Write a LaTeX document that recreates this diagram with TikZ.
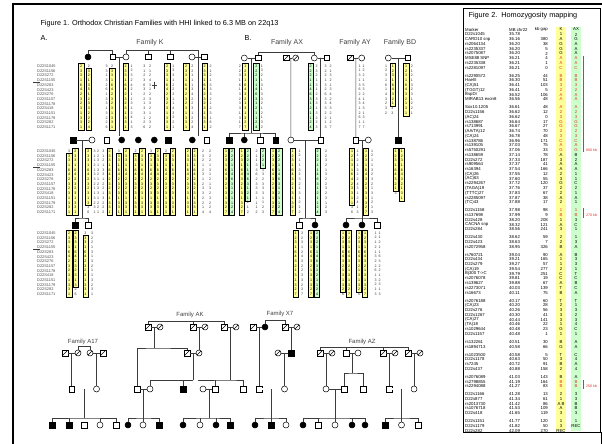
\documentclass[tikz,border=0pt]{standalone}
\usepackage{fontspec}
\setmainfont{Liberation Sans}
\usepackage{xcolor}
\usepackage{tikz}
\usetikzlibrary{calc}
\definecolor{hapy}{RGB}{255,255,153}
\definecolor{hapg}{RGB}{204,255,204}
\definecolor{lnk}{RGB}{60,60,60}
\definecolor{recred}{RGB}{228,45,45}
\newcommand{\hapfont}{\fontsize{3.6}{4.7}\selectfont}
\newcommand{\mkfont}{\fontsize{3.9}{4.7}\selectfont}
\newcommand{\tabfont}{\fontsize{4.3}{5}\selectfont}
\newcommand{\famfont}{\fontsize{7}{8}\selectfont}
% one digit per line
\def\colrest#1{\ifx\relax#1\else\\#1\expandafter\colrest\fi}
\def\colfirst#1{#1\colrest}
\newcommand{\col}[1]{\colfirst#1\relax}
\newcommand{\mklist}{D22S1045\\D22S1156\\D22S272\\D22S1155\\D22S283\\D22S423\\D22S276\\D22S1157\\D22S1178\\D22S418\\D22S1151\\D22S1179\\D22S282\\D22S1171}

\begin{document}
\begin{tikzpicture}[x=1pt,y=-1pt,
 ml/.style={draw,fill=white,minimum size=5.5pt,inner sep=0pt,line width=.5pt},
 fm/.style={ml,circle,minimum size=6pt},
 af/.style={fill=black},
 dc/.style={path picture={\draw[line width=.5pt] (path picture bounding box.south west) -- (path picture bounding box.north east);}},
 pl/.style={draw=lnk,line width=.6pt},
 hy/.style={draw,fill=hapy,anchor=north,inner xsep=0pt,inner ysep=1.6pt,minimum width=5.4pt,align=center,font=\hapfont,line width=.5pt},
 hg/.style={hy,fill=hapg},
 nm/.style={anchor=north,inner xsep=0pt,inner ysep=1.6pt,align=center,font=\hapfont,text=black!80},
 mk/.style={nm,anchor=north west,align=left,font=\mkfont,text=black!70},
 fam/.style={font=\famfont,text=black!75},
 tb/.style={font=\tabfont,inner sep=0pt}]
\useasboundingbox (0,0) rectangle (602,444);

% frames
\draw[line width=2pt] (13,444) -- (13,4) -- (602,4);
\draw[line width=.6pt] (463,8) rectangle (600,432);
\draw[line width=1pt] (601,432) -- (601,444);

% ---------------- Figure 1 ----------------
\node[anchor=west,font=\fontsize{7.3}{8}\selectfont] (t1) at (37,24) {Figure 1. Orthodox Christian Families with HHI linked to 6.3 MB on 22q13};
\node[anchor=west,font=\fontsize{7.3}{8}\selectfont] (tA) at (37,38) {A.};
\node[anchor=west,font=\fontsize{7.3}{8}\selectfont] (tB) at (241,38) {B.};
\node[fam] (lK) at (150,43) {Family K};
\node[fam] (lAX) at (287,43) {Family AX};
\node[fam] (lAY) at (355,43) {Family AY};
\node[fam] (lBD) at (400,43) {Family BD};

% Family K
\node[fm,af] (k1) at (88,57) {};
\node[ml] (k2) at (112.5,57) {};
\node[fm] (k3) at (126,57) {};
\node[ml] (k4) at (148,57) {};
\node[ml] (k5) at (170,57) {};
\node[fm] (k6) at (192,57) {};
\node[ml] (k7) at (204,57) {};
\node[ml,af] (k8) at (73,140) {};
\node[fm] (k9) at (92,140) {};
\node[ml] (k10) at (106.7,140) {};
\node[fm,af] (k11) at (121.7,140) {};
\node[fm,af] (k12) at (138.3,140) {};
\node[fm,af] (k13) at (154.3,140) {};
\node[ml,af] (k14) at (168.3,140) {};
\node[fm,af] (k15) at (192.3,140) {};
\node[ml] (k16) at (206.7,140) {};
\node[ml,af] (k17) at (75,225) {};
\node[ml] (k18) at (88,225) {};
\coordinate (kj1) at ($(k2)!.5!(k3)$);
\coordinate (kj2) at ($(k6)!.5!(k7)$);
\coordinate (kj3) at ($(k8)!.5!(k9)$);
\draw[pl] (k1.north) -- ++(0,-3.5) -| (k2.north);
\draw[pl] (k2) -- (k3);
\draw[pl] (k6) -- (k7);
\draw[pl] (k3.north) -- ++(0,-3.5) -| (kj2);
\draw[pl] (k4.north) -- ++(0,-3.5);
\draw[pl] (k5.north) -- ++(0,-3.5);
\draw[pl] (kj1) -- ++(0,79);
\draw[pl] (kj2) -- ++(0,79);
\draw[pl] (k8) -- (k9);
\draw[pl] (kj3) -- ++(0,78) coordinate (kj4);
\draw[pl] (k17.north) |- (kj4) -| (k18.north);

\node[mk] (mkA) at (37,63) {\mklist};
\node[mk] (mkB) at (37,148) {\mklist};
\node[mk] (mkC) at (37,230) {\mklist};
\draw[pl] (33,82.5) -- (40,82.5);
\draw[pl] (33,167) -- (40,167);
\draw[pl] (33,249) -- (40,249);

% K row 1
\node[hy] (ka1) at (81.2,63) {\col{23316423231331}};
\node[hy] (ka2) at (88.8,67.7) {\col{3213512332224}};
\node[nm] (ka3) at (88.8,63) {2};
\node[nm] (kb1) at (106.5,63) {\col{33132613313226}};
\node[hy] (kb2) at (112.2,67.7) {\col{3316423231331}};
\node[nm] (kb3) at (112.2,63) {2};
\node[hy] (kc1) at (125.5,63) {\col{23316423231331}};
\node[nm] (kc2) at (131.5,63) {\col{12324211312413}};
\node[nm] (kd1) at (144.3,63) {\col{31236322133126}};
\node[nm] (kd2) at (150,63) {\col{21243123321232}};
\draw[pl] (152,85) -- (156.5,85) (154.3,81.5) -- (154.3,88.5);
\node[hy] (ke1) at (167.2,63) {\col{23316423231331}};
\node[nm] (ke2) at (173.3,63) {\col{13312231143321}};
\node[hy] (kf1) at (186.2,63) {\col{23316423231331}};
\node[nm] (kf2) at (192.3,63) {\col{22111342231224}};
\node[hy] (kg1) at (204.5,63) {\col{23316423231331}};
\node[nm] (kg2) at (210.7,63) {\col{21213332123162}};

% K row 2
\node[nm] (la0) at (69.2,148) {3};
\node[hy] (la1) at (69.2,152.7) {\col{3316423231331}};
\node[hy] (la2) at (75.3,148) {\col{23316423231331}};
\node[hy] (lb1) at (88.3,148) {\col{233164232313}};
\node[nm] (lb2) at (88.3,204.4) {\col{36}};
\node[nm] (lb3) at (94.5,148) {\col{31121332113231}};
\node[nm] (lb4) at (98,148) {\col{22313212331221}};
\node[nm] (lc1) at (103.3,148) {\col{31213312213222}};
\node[hy] (lc2) at (109.5,148) {\col{23316423231331}};
\node[nm] (ld0) at (118.8,148) {3};
\node[hy] (ld1) at (118.8,152.7) {\col{3316423231331}};
\node[hy] (ld2) at (126.2,148) {\col{23316423231331}};
\node[nm] (le0) at (135.5,148) {2};
\node[hy] (le1) at (135.5,152.7) {\col{3316423231331}};
\node[hy] (le2) at (142.2,148) {\col{23316423231331}};
\node[nm] (lf0) at (151.2,148) {3};
\node[hy] (lf1) at (151.2,152.7) {\col{3316423231331}};
\node[hy] (lf2) at (157.8,148) {\col{23316423231331}};
\node[nm] (lg0) at (166.2,148) {2};
\node[hy] (lg1) at (166.2,152.7) {\col{3316423231331}};
\node[hy] (lg2) at (172.8,148) {\col{23316423231331}};
\node[hy] (lh1) at (187.8,148) {\col{23316423231331}};
\node[hy] (lh2) at (194.5,148) {\col{23316423231331}};
\node[nm] (li1) at (203,148) {\col{23212312332214}};
\node[nm] (li2) at (210,148) {\col{22213121323224}};

% K row 3
\node[hy] (ma1) at (69.2,230) {\col{23316423231331}};
\node[hy] (ma2) at (75.5,230) {\col{233164232313}};
\node[nm] (ma3) at (75.5,286.4) {\col{26}};
\node[nm] (mb0) at (85.5,230) {3};
\node[hy] (mb1) at (85.5,234.7) {\col{3316423231331}};
\node[nm] (mb2) at (92,230) {\col{32213132113231}};

% Family AX
\node[fm] (x1) at (244.3,58) {};
\node[ml] (x2) at (258.3,58) {};
\node[ml,dc] (x3) at (286,58) {};
\node[fm,dc] (x4) at (295.7,58) {};
\node[fm] (x5) at (314.3,58) {};
\node[ml] (x6) at (326.7,58) {};
\node[ml,af] (x7) at (229,140) {};
\node[fm,af] (x8) at (244.3,140) {};
\node[ml] (x9) at (260,140) {};
\node[ml,af] (x10) at (275.7,140) {};
\node[fm] (x11) at (290.9,140) {};
\node[ml] (x12) at (320.5,140) {};
\node[ml] (x13) at (299,225) {};
\node[fm,af] (x14) at (315,225) {};
\coordinate (xj1) at ($(x1)!.5!(x2)$);
\coordinate (xj3) at ($(x3)!.5!(x4)$);
\coordinate (xj4) at ($(x5)!.5!(x6)$);
\coordinate (xj5) at ($(x11)!.5!(x12)$);
\draw[pl] (x2.north) -- ++(0,-3) -| (x5.north);
\draw[pl] (x1) -- (x2);
\draw[pl] (x3) -- (x4);
\draw[pl] (x5) -- (x6);
\draw[pl] (xj1) -- ++(0,75) coordinate (xj2);
\draw[pl] (x7.north) |- (xj2) -| (x10.north);
\draw[pl] (x8.north) -- (x8.north |- xj2);
\draw[pl] (x9.north) -- (x9.north |- xj2);
\draw[pl] (xj3) -- (x11.north);
\draw[pl] (xj4) -- (x12.north);
\draw[pl] (x11) -- (x12);
\draw[pl] (xj5) -- ++(0,78) coordinate (xj6);
\draw[pl] (x13.north) |- (xj6) -| (x14.north);

\node[nm] (na1) at (239.8,63) {\col{22316132331317}};
\node[hy] (na2) at (245.3,63) {\col{12316432131327}};
\node[hg] (nb1) at (256.3,63) {\col{22211463121124}};
\node[nm] (nb2) at (261.9,63) {\col{13213133212132}};
\node[hg] (nc1) at (310.5,63) {\col{22211463121124}};
\node[nm] (nc2) at (316.7,63) {\col{23213123313223}};
\node[nm] (nc3) at (325.5,63) {\col{32213263332213}};
\node[nm] (nc4) at (330.5,63) {\col{21321342432127}};

\node[hy] (oa1) at (226,148) {\col{12316432131327}};
\node[hg] (oa2) at (232,148) {\col{22211463121124}};
\node[hy] (ob1) at (241.8,148) {\col{12316432131327}};
\node[hg] (ob2) at (247.8,148) {\col{22211463121}};
\node[nm] (ob3) at (247.8,199.7) {\col{112}};
\node[nm] (oc1) at (256.7,148) {\col{21133623331112}};
\node[hg] (oc2) at (263,148) {\col{2221}};
\node[nm] (oc3) at (263,166.8) {\col{1323331123}};
\node[hy] (od1) at (273,148) {\col{12316432131327}};
\node[hg] (od2) at (279.2,148) {\col{22211463121124}};
\node[hy] (oe1) at (292.5,148) {\col{12316432131327}};
\node[nm] (oe2) at (299.5,148) {\col{12113232131212}};
\node[hg] (of1) at (317.5,148) {\col{22211463121124}};
\node[nm] (of2) at (326,148) {\col{22321322323123}};

\node[hy] (pa1) at (295.5,230) {\col{12316432131327}};
\node[nm] (pa2) at (302,230) {\col{32312432233237}};
\node[hy] (pb1) at (311,230) {\col{12316432131327}};
\node[hg] (pb2) at (317,230) {\col{22211463121124}};

% Family AY
\node[ml,dc] (y1) at (350,58) {};
\node[fm] (y2) at (361.7,58) {};
\node[ml] (y3) at (355.8,140) {};
\node[fm] (y4) at (368.3,140) {};
\node[fm,af] (y5) at (346,225) {};
\node[fm,af] (y6) at (362,225) {};
\node[ml] (y7) at (377,225) {};
\coordinate (yj1) at ($(y1)!.5!(y2)$);
\coordinate (yj2) at ($(y3)!.5!(y4)$);
\draw[pl] (y1) -- (y2);
\draw[pl] (yj1) -- (y3.north);
\draw[pl] (y3) -- (y4);
\draw[pl] (yj2) -- ++(0,78) coordinate (yj3);
\draw[pl] (y5.north) |- (yj3) -| (y7.north);
\draw[pl] (y6.north) -- (y6.north |- yj3);

\node[nm] (qa1) at (359.5,63) {\col{11313624312617}};
\node[nm] (qa2) at (363.5,63) {\col{12215321431317}};
\node[hy] (ra1) at (352,148) {\col{121316423311}};
\node[nm] (ra2) at (352,204.4) {\col{36}};
\node[nm] (ra3) at (357.5,148) {\col{11213224312413}};
\node[hy] (ra4) at (366,148) {\col{12316432131327}};
\node[nm] (ra5) at (372,148) {\col{12113232131213}};
\node[hy] (sa1) at (343,230) {\col{1231643213132}};
\node[nm] (sa2) at (343,291.1) {6};
\node[hy] (sa3) at (349,230) {\col{12316432131327}};
\node[hy] (sb1) at (359,230) {\col{1231643213132}};
\node[nm] (sb2) at (359,291.1) {5};
\node[hy] (sb3) at (365,230) {\col{12316432131327}};
\node[nm] (sc1) at (375.5,230) {\col{12121322613213}};
\node[nm] (sc2) at (379.5,230) {\col{11211632212313}};

% Family BD
\node[fm] (b1) at (388.3,58) {};
\node[ml] (b2) at (407.7,58) {};
\coordinate (bj1) at ($(b1)!.5!(b2)$);
\node[ml,af] (b3) at (bj1 |- 0,140) {};
\draw[pl] (b1) -- (b2);
\draw[pl] (bj1) -- (b3.north);
\node[nm] (ta1) at (386,63) {\col{12316143232}};
\node[hy] (ta2) at (392.8,63) {\col{123164321}};
\node[nm] (ta3) at (392.3,105.3) {\col{33}};
\node[hy] (ta4) at (406.2,63) {\col{12316432131}};
\node[nm] (ta5) at (411.9,63) {\col{21213231221}};
\node[hy] (ua1) at (395.5,148) {\col{123164321}};
\node[nm] (ua2) at (395.5,190.3) {3};
\node[hy] (ua3) at (401.8,148) {\col{12316432131}};

% Family A17
\node[fam,font=\fontsize{6}{7}\selectfont] (lA17) at (83,342) {Family A17};
\node[ml,dc] (a1) at (65,353) {};
\node[fm,dc] (a2) at (78,353) {};
\node[fm,dc] (a3) at (90,353) {};
\node[ml,dc] (a4) at (103,353) {};
\node[ml] (a5) at (71.5,389) {};
\node[fm] (a6) at (96.5,389) {};
\node[ml,af] (a7) at (52,425) {};
\node[ml,af] (a8) at (69,425) {};
\node[ml] (a9) at (84,425) {};
\node[fm] (a10) at (100,425) {};
\node[ml] (a11) at (116,425) {};
\coordinate (aj1) at ($(a1)!.5!(a2)$);
\coordinate (aj2) at ($(a3)!.5!(a4)$);
\coordinate (aj3) at ($(a5)!.5!(a6)$);
\draw[pl] (a1) -- (a2);
\draw[pl] (a3) -- (a4);
\draw[pl] (a2.north) -- ++(0,-3) -| (a3.north);
\draw[pl] (aj1) -- (a5.north);
\draw[pl] (aj2) -- (a6.north);
\draw[pl,double,double distance=1.1pt] (a5) -- (a6);
\draw[pl] (aj3) -- ++(0,29) coordinate (aj4);
\draw[pl] (a7.north) |- (aj4) -| (a11.north);
\foreach \n in {a8,a10} \draw[pl] (\n.north) -- (\n.north |- aj4);

% Family AK
\node[fam,font=\fontsize{6}{7}\selectfont] (lAK) at (190,315) {Family AK};
\node[ml,dc] (g1) at (148,327) {};
\node[fm,dc] (g2) at (160,327) {};
\node[ml,dc] (g3) at (193,327) {};
\node[fm,dc] (g4) at (205,327) {};
\node[ml,dc] (g5) at (224,327) {};
\node[fm,dc] (g6) at (236,327) {};
\node[ml,dc] (g7) at (187,353) {};
\node[fm,dc] (g8) at (199,353) {};
\node[ml] (g9) at (137,389) {};
\node[fm] (g10) at (150,389) {};
\node[ml,af] (g11) at (183,389) {};
\node[fm] (g12) at (203,389) {};
\node[ml] (g13) at (215,389) {};
\node[ml] (g14) at (243,389) {};
\node[fm,af] (g15) at (128,425) {};
\node[fm] (g16) at (143,425) {};
\node[ml,af] (g17) at (159,425) {};
\node[fm,af] (g18) at (183,425) {};
\node[fm] (g19) at (200,425) {};
\node[fm,af] (g20) at (216,425) {};
\node[ml,af] (g21) at (230,425) {};
\coordinate (gj1) at ($(g1)!.5!(g2)$);
\coordinate (gj3) at ($(g3)!.5!(g4)$);
\coordinate (gj4) at ($(g7)!.5!(g8)$);
\coordinate (gj6) at ($(g5)!.5!(g6)$);
\coordinate (gj8) at ($(g9)!.5!(g10)$);
\coordinate (gj10) at ($(g12)!.5!(g13)$);
\foreach \p/\q in {g1/g2,g3/g4,g5/g6,g7/g8,g9/g10,g12/g13} \draw[pl] (\p) -- (\q);
\draw[pl] (g1.north) -- ++(0,-3) coordinate (gt) -| (g5.north);
\draw[pl] (g3.north) -- (g3.north |- gt);
\draw[pl] (gj1) -- ++(0,21) coordinate (gj2);
\draw[pl] (g9.north) |- (gj2) -| (g7.north);
\draw[pl] (gj3) -- (g8.north);
\draw[pl] (gj4) -- ++(0,27) coordinate (gj5);
\draw[pl] (g10.north) |- (gj5);
\draw[pl] (g11.north) -- (g11.north |- gj5);
\draw[pl] (gj6) -- ++(0,53) coordinate (gj7);
\draw[pl] ([xshift=-17pt]g13.north |- gj7) -- (gj7) -| (g14.north);
\draw[pl] (g13.north) -- (g13.north |- gj7);
\draw[pl] (gj8) -- ++(0,29) coordinate (gj9);
\draw[pl] (g15.north) |- (gj9) -| (g17.north);
\draw[pl] (g16.north) -- (g16.north |- gj9);
\draw[pl] (gj10) -- ++(0,29) coordinate (gj11);
\draw[pl] (g18.north) |- (gj11) -| (g21.north);
\foreach \n in {g19,g20} \draw[pl] (\n.north) -- (\n.north |- gj11);

% Family X7
\node[fam,font=\fontsize{6}{7}\selectfont] (lX7) at (280,314) {Family X7};
\node[ml,dc] (h1) at (253,327) {};
\node[fm,af] (h2) at (265,327) {};
\node[ml,dc] (h3) at (285,327) {};
\node[fm,dc] (h4) at (297,327) {};
\node[fm,dc] (h5) at (278,353) {};
\node[ml,af] (h6) at (291,353) {};
\node[ml] (h7) at (259,389) {};
\node[fm] (h8) at (284.5,389) {};
\node[fm,af] (h9) at (255,425) {};
\node[ml,af] (h10) at (271,425) {};
\node[fm] (h11) at (286,425) {};
\coordinate (hj1) at ($(h1)!.5!(h2)$);
\coordinate (hj2) at ($(h3)!.5!(h4)$);
\coordinate (hj3) at ($(h5)!.5!(h6)$);
\coordinate (hj4) at ($(h7)!.5!(h8)$);
\foreach \p/\q in {h1/h2,h3/h4,h5/h6} \draw[pl] (\p) -- (\q);
\draw[pl] (h2.north) -- ++(0,-3) -| (h3.north);
\draw[pl] (hj1) -- (h7.north);
\draw[pl] (hj2) -- (h6.north);
\draw[pl] (hj3) -- (h8.north);
\draw[pl,double,double distance=1.1pt] (h7) -- (h8);
\draw[pl] (hj4) -- ++(0,29) coordinate (hj5);
\draw[pl] (h9.north) |- (hj5) -| (h11.north);
\draw[pl] (h10.north) -- (h10.north |- hj5);

% Family AZ
\node[fam,font=\fontsize{6}{7}\selectfont] (lAZ) at (362,342) {Family AZ};
\node[ml,dc] (z1) at (320,353) {};
\node[fm,dc] (z2) at (332,353) {};
\node[ml] (z3) at (346,353) {};
\node[fm] (z4) at (358,353) {};
\node[ml,dc] (z5) at (383,353) {};
\node[fm,dc] (z6) at (395,353) {};
\node[ml,dc] (z7) at (408,353) {};
\node[fm,dc] (z8) at (420,353) {};
\node[fm] (z9) at (326,389) {};
\node[ml] (z10) at (344,389) {};
\node[ml] (z11) at (363,389) {};
\node[ml] (z12) at (389,389) {};
\node[fm] (z13) at (414,389) {};
\node[fm,af] (z14) at (303,425) {};
\node[ml] (z15) at (318,425) {};
\node[fm] (z16) at (335,425) {};
\node[fm,af] (z17) at (352,425) {};
\node[fm,af] (z18) at (365,425) {};
\node[ml,af] (z19) at (385,425) {};
\node[fm] (z20) at (401.5,425) {};
\node[ml] (z21) at (418,425) {};
\coordinate (zj1) at ($(z1)!.5!(z2)$);
\coordinate (zj2) at ($(z3)!.5!(z4)$);
\coordinate (zj4) at ($(z9)!.5!(z10)$);
\coordinate (zj6) at ($(z5)!.5!(z6)$);
\coordinate (zj7) at ($(z7)!.5!(z8)$);
\coordinate (zj8) at ($(z12)!.5!(z13)$);
\foreach \p/\q in {z1/z2,z3/z4,z5/z6,z7/z8,z9/z10} \draw[pl] (\p) -- (\q);
\draw[pl] (z1.north) -- ++(0,-3) coordinate (zt) -| (z7.north);
\foreach \n in {z3,z5} \draw[pl] (\n.north) -- (\n.north |- zt);
\draw[pl] (zj1) -- (z9.north);
\draw[pl] (zj2) -- ++(0,20) coordinate (zj3);
\draw[pl] (z10.north) |- (zj3) -| (z11.north);
\draw[pl] (zj4) -- ++(0,29) coordinate (zj5);
\draw[pl] (z14.north) |- (zj5) -| (z18.north);
\foreach \n in {z15,z16,z17} \draw[pl] (\n.north) -- (\n.north |- zj5);
\draw[pl] (zj6) -- (z12.north);
\draw[pl] (zj7) -- (z13.north);
\draw[pl,double,double distance=1.1pt] (z12) -- (z13);
\draw[pl] (zj8) -- ++(0,29) coordinate (zj9);
\draw[pl] (z19.north) |- (zj9) -| (z21.north);
\draw[pl] (z20.north) -- (z20.north |- zj9);

% ---------------- Figure 2 ----------------
\node[anchor=west,font=\fontsize{7.3}{8}\selectfont] (t2) at (465,16) {Figure 2.\ \ Homozygosity mapping};
\fill[hapy] (556,27) rectangle (566,431);
\fill[hapg] (571,27) rectangle (581,431);
\node[tb,anchor=west] (th1) at (465,29.5) {Marker};
\node[tb,anchor=west] (th2) at (509,29.5) {MB chr22};
\node[tb,anchor=east] (th3) at (548,29.5) {kb gap};
\node[tb] (th4) at (561,29.5) {K};
\node[tb] (th5) at (576,29.5) {AX};
\foreach \i/\g/\nm/\mb/\kb/\kk/\ax/\c in {
 1/0/D22s1045/35.78//1/2/black, 2/0/CARD10 snp/36.16/380/A/G/black,
 3/0/rs2064134/36.20/38/G/A/black, 4/0/rs2235337/36.20/5/G/A/black,
 5/0/rs2075087/36.20/2/G/A/black, 6/0/MSE88 SNP/36.21/4/A/A/recred,
 7/0/rs2235338/36.21/1/A/A/recred, 8/0/rs2281097/36.21/0/C/C/recred,
 9/1/rs2290572/36.25/44/B/B/recred, 10/1/HaeIII/36.30/51/B/B/recred,
 11/1/(CA)51/36.41/103/3/3/recred, 12/1/(TGGT)12/36.41/5/2/2/recred,
 13/1/BspDI/36.52/106/A/A/recred, 14/1/MIRAB13 exon8/36.56/48/A/A/recred,
 15/2/Sox10.1205/36.61/48/A/A/recred, 16/2/D22s1156/36.62/12/2/2/recred,
 17/2/(AC)24/36.62/0/3/3/recred, 18/2/rs138687/36.64/17/G/G/recred,
 19/2/rs713991/36.67/27/G/G/recred, 20/2/{(AA/TA)12}/36.74/70/2/2/recred,
 21/2/(CA)24/36.78/48/3/3/recred, 22/2/rs138786/36.96/171/C/C/recred,
 23/2/rs139105/37.03/75/A/A/recred, 24/2/rs5750291/37.06/33/G/G/recred,
 25/2/rs138659/37.14/78/A/B/black, 26/2/D22s272/37.33/187/3/2/black,
 27/2/rs909564/37.37/41/A/A/black, 28/2/rs16394/37.54/166/A/A/black,
 29/2/(CA)26/37.55/12/2/1/black, 30/2/(AC)63/37.60/55/3/1/black,
 31/2/rs2294267/37.72/120/G/C/black, 32/2/(TAGA)19/37.76/37/2/2/black,
 33/2/(TTTC)27/37.83/67/2/1/black, 34/2/rs2285097/37.87/38/A/A/black,
 35/2/(TC)43/37.88/17/2/1/black, 36/3/D22s1158/37.98/98/1/1/recred,
 37/3/rs137698/37.99/9/B/B/recred, 38/3/D22s428/38.20/208/1/3/black,
 39/3/CACNA snp/38.32/121/A/C/black, 40/3/D22s284/38.56/241/3/1/black,
 41/4/D22s430/38.62/59/2/1/black, 42/4/D22s423/38.63/7/2/3/black,
 43/4/rs2072958/38.95/326/B/A/black, 44/5/rs760721/39.04/90/A/B/black,
 45/5/D22s434/39.21/165/1/3/black, 46/5/D22s279/39.27/57/1/3/black,
 47/5/(CA)19/39.54/277/2/1/black, 48/5/Bj300 T->C/39.79/251/C/T/black,
 49/5/rs2076078/39.81/19/C/C/black, 50/5/rs139627/39.88/67/A/B/black,
 51/5/rs2273071/40.03/139/T/C/black, 52/5/rs16673/40.11/75/B/A/black,
 53/6/rs2076188/40.17/60/T/T/black, 54/6/(CA)23/40.20/28/2/1/black,
 55/6/D22s276/40.26/56/3/3/black, 56/6/D22s1267/40.30/41/3/2/black,
 57/6/(CA)27/40.44/141/3/3/black, 58/6/(TA)18/40.46/22/1/4/black,
 59/6/rs1029644/40.48/23/G/C/black, 60/6/D22s1157/40.48/1/1/1/black,
 61/7/rs132261/40.51/30/B/A/black, 62/7/rs1894713/40.58/66/G/A/black,
 63/8/rs1023500/40.58/5/T/C/black, 64/8/D22s1178/40.63/50/3/4/black,
 65/8/rs7245/40.72/91/B/A/black, 66/8/D22s437/40.88/158/2/4/black,
 67/9/rs2076089/41.03/143/B/A/black, 68/9/rs2798855/41.19/164/B/B/recred,
 69/9/rs2294088/41.27/83/B/B/recred, 70/10/D22s1166/41.28/13/2/3/black,
 71/10/D22s877/41.34/61/1/3/black, 72/10/rs2013730/41.42/86/A B/B/black,
 73/10/rs1076718/41.53/109/A/B/black, 74/10/D22s418/41.65/119/3/3/black,
 75/11/D22s1151/41.77/120/1/1/black, 76/11/D22s1179/41.82/50/3/REC/black,
 77/11/D22s282/42.09/270/REC//black}{
 \pgfmathsetmacro{\ty}{34.5+(\i-1)*4.75+\g*3.2}
 \node[tb,anchor=west] (tn\i) at (465,\ty) {\nm};
 \node[tb,anchor=west] (tp\i) at (509,\ty) {\mb};
 \node[tb,anchor=east] (tg\i) at (548,\ty) {\kb};
 \node[tb,text=\c] (tk\i) at (561,\ty) {\kk};
 \node[tb,text=\c] (tx\i) at (576,\ty) {\ax};
}
\fill[black!60] (582.5,56) rectangle (584,152);
\fill[black!60] (582.5,208) rectangle (584,217.5);
\fill[black!60] (582.5,379.5) rectangle (584,388.5);
\node[tb,anchor=west,text=recred,font=\fontsize{3.6}{4}\selectfont] (rl1) at (586,150) {800 kb};
\node[tb,anchor=west,text=recred,font=\fontsize{3.6}{4}\selectfont] (rl2) at (586,215) {270 kb};
\node[tb,anchor=west,text=recred,font=\fontsize{3.6}{4}\selectfont] (rl3) at (586,386) {250 kb};
\end{tikzpicture}
\end{document}
